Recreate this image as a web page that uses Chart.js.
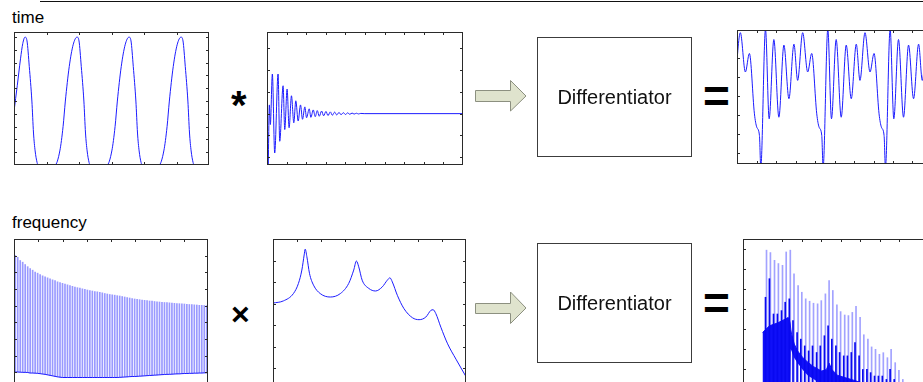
<!DOCTYPE html>
<html><head><meta charset="utf-8">
<script src="https://cdn.jsdelivr.net/npm/chart.js@4.4.1/dist/chart.umd.min.js"></script>
<style>
html,body{margin:0;padding:0;background:#fff;}
body{width:923px;height:382px;overflow:hidden;position:relative;font-family:"Liberation Sans",Arial,sans-serif;}
.lbl{position:absolute;font-size:17px;line-height:17px;color:#000;white-space:nowrap;}
.box{position:absolute;border:1px solid #3c3c3c;box-sizing:border-box;display:flex;align-items:center;justify-content:center;font-size:20px;color:#111;}
.sym{position:absolute;font-weight:bold;color:#000;white-space:nowrap;}
canvas{position:absolute;}
#rule{position:absolute;left:40px;top:1px;width:883px;height:1px;background:#111;}
svg{position:absolute;left:0;top:0;}
</style></head><body>
<div id="rule"></div>
<div class="lbl" style="left:12px;top:9px;">time</div>
<div class="lbl" style="left:12px;top:214px;">frequency</div>

<canvas id="c1" width="199" height="137" style="left:12px;top:30px;"></canvas>
<canvas id="c2" width="200" height="137" style="left:265px;top:30px;"></canvas>
<canvas id="c4" width="199" height="138" style="left:735px;top:28px;"></canvas>
<canvas id="c5" width="198" height="154" style="left:12px;top:237px;"></canvas>
<canvas id="c6" width="197" height="155" style="left:271px;top:237px;"></canvas>
<canvas id="c7" width="199" height="154" style="left:741px;top:237px;"></canvas>

<div class="sym" style="left:231px;top:85px;font-size:40px;line-height:40px;">*</div>
<div class="sym" style="left:231px;top:298px;font-size:32px;line-height:32px;">×</div>
<div class="sym" style="left:703px;top:73px;font-size:46px;line-height:46px;">=</div>
<div class="sym" style="left:703px;top:280px;font-size:46px;line-height:46px;">=</div>

<svg width="923" height="382">
  <polygon points="475.5,90.5 510.5,90.5 510.5,80.5 526,96 510.5,111 510.5,101.5 475.5,101.5" fill="#dfe3cd" stroke="#8c9080" stroke-width="1"/>
  <polygon points="475.5,303.5 510.5,303.5 510.5,292 526,308 510.5,323.5 510.5,313.5 475.5,313.5" fill="#dfe3cd" stroke="#8c9080" stroke-width="1"/>
</svg>
<div class="box" style="left:537px;top:37px;width:155px;height:120px;">Differentiator</div>
<div class="box" style="left:537px;top:243px;width:155px;height:120px;">Differentiator</div>

<script>
// ---- time domain: glottal pulse train ----
const pulseX = [0,0.1,0.2,0.27,0.34,0.40,0.47,0.55,0.60,0.65,0.71,0.74,
  1.26,1.41,1.51,1.58,1.70,1.82,1.94,2.00,2.07,2.15,2.20,2.25,2.31,2.34,
  2.86,3.01,3.11,3.18,3.30,3.42,3.54,3.60,3.67,3.75,3.80,3.85,3.91,3.94,
  4.46,4.61,4.71,4.78,4.90,5.02,5.14,5.20,5.27,5.35,5.40,5.45,5.51,5.54,6.0];
const pulseY = [0.42,0.62,0.83,0.95,1.0,0.97,0.77,0.5,0.25,0.11,0.02,0,
  0,0.11,0.3,0.5,0.77,0.94,1.0,0.97,0.77,0.5,0.25,0.11,0.02,0,
  0,0.11,0.3,0.5,0.77,0.94,1.0,0.97,0.77,0.5,0.25,0.11,0.02,0,
  0,0.11,0.3,0.5,0.77,0.94,1.0,0.97,0.77,0.5,0.25,0.11,0.02,0,0];
const pulseXTicks = [1,2,3,4,5];
const pulseYTicks = [0.1,0.2,0.3,0.4,0.5,0.6,0.7,0.8,0.9,1.0];

// ---- time domain: vocal tract impulse response ----
const irX = [0,3,7,10,16,23,33,38,48,53,60,66,73,80,86,93,100,106,113,118,126,131,138,144,150,156,163,169,176,182,189,195,202,208,215,221,228,234,241,247,254,260,267,273,280,290,585];
const irY = [4.2,-2.6,0.4,-0.5,1.82,-1.81,1.82,-1.27,1.28,-0.73,1.13,-0.65,0.82,-0.42,0.59,-0.34,0.40,-0.26,0.31,-0.19,0.22,-0.17,0.17,-0.14,0.14,-0.12,0.12,-0.10,0.10,-0.09,0.08,-0.075,0.07,-0.06,0.055,-0.05,0.045,-0.04,0.035,-0.03,0.025,-0.02,0.018,-0.015,0.01,0,0];
const irXTicks = [58.5,117,175.5,234,292.5,351,409.5,468,526.5];
const irYTicks = [-2,-1,0,1,2,3];

// ---- time domain: output speech ----
const spX = [-5,10,25,37,52,59,67,71,
  85,96,110,125,140,155,170,181,196,211,223,238,245,253,257,
  271,282,296,311,326,341,356,367,382,397,409,424,431,439,443,
  457,468,482,497,512,527,542,553,568,583];
const spY = [3.82,6.32,4.26,5.23,2.07,1.37,0.93,-0.74,
  6.5,1.81,5.96,1.89,5.67,2.86,5.72,3.82,6.32,4.26,5.23,2.07,1.37,0.93,-0.74,
  6.5,1.81,5.96,1.89,5.67,2.86,5.72,3.82,6.32,4.26,5.23,2.07,1.37,0.93,-0.74,
  6.5,1.81,5.96,1.89,5.67,2.86,5.72,3.82,6.32,4.26];
const spXTicks = [58.2,116.4,174.6,232.8,291,349.2,407.4,465.6,523.8];
const spYTicks = [0,1,2,3,4,5];

// ---- frequency domain: glottal spectrum (harmonic lines) ----
const harmTop = [8.01,7.90,7.71,7.61,7.47,7.34,7.23,7.13,7.02,6.95,6.87,6.79,6.73,6.67,6.61,6.55,6.50,6.43,6.39,6.34,
  6.30,6.25,6.20,6.16,6.12,6.08,6.05,6.01,5.98,5.94,5.91,5.88,5.85,5.83,5.80,5.77,5.73,5.70,5.67,5.65,
  5.63,5.60,5.58,5.55,5.52,5.49,5.46,5.43,5.40,5.38,5.36,5.34,5.32,5.30,5.28,5.27,5.25,5.23,5.22,5.20,
  5.19,5.18,5.17,5.16,5.14,5.13,5.12,5.11,5.10,5.08,5.07,5.06,5.05,5.04,5.02,5.02,5.01,5.00];
const harmLow = [1.02,1.02,1.01,1.0,1.0,0.99,0.96,0.96,0.95,0.94,0.92,0.9,0.88,0.85,0.82,0.79,0.76,0.73,0.71,0.69,
  0.69,0.69,0.69,0.69,0.69,0.69,0.69,0.69,0.69,0.69,0.69,0.69,0.69,0.69,0.69,0.69,0.69,0.69,0.69,0.69,
  0.69,0.69,0.70,0.71,0.72,0.73,0.74,0.75,0.75,0.76,0.77,0.78,0.79,0.80,0.81,0.82,0.83,0.84,0.85,0.86,
  0.87,0.88,0.88,0.89,0.90,0.91,0.91,0.92,0.93,0.93,0.94,0.94,0.95,0.95,0.96,0.96,0.97,0.97];
const harmLabels = harmTop.map((_, i) => String(i + 1));
const harmYTicks = [1,2,3,4,5,6,7,8];

// ---- frequency domain: vocal tract response ----
const vtX = [0,0.215,0.423,0.527,0.598,0.646,0.667,0.702,0.756,0.840,0.979,1.188,1.396,1.569,1.673,1.729,1.777,1.848,1.985,2.125,2.265,2.369,2.423,2.473,2.577,2.715,2.890,3.027,3.167,3.271,3.319,3.375,3.479,3.619,3.792,4.0];
const vtY = [4.03,4.13,4.47,4.94,5.56,6.26,6.53,6.18,5.41,4.86,4.47,4.31,4.47,4.94,5.56,5.98,5.71,5.09,4.71,4.59,4.78,5.09,5.20,5.01,4.39,3.77,3.35,3.26,3.38,3.69,3.72,3.54,2.91,2.14,1.43,0.62];
const vtXTicks = [0.5,1,1.5,2,2.5,3,3.5];
const vtYTicks = [1,2,3,4,5,6];

// ---- frequency domain: output spectrum ----
const spkX = [0.18,0.38,0.59,0.79,1.0,1.19,1.4,1.59,1.8,1.99,2.19,2.39,2.59,2.8,2.99,3.2,3.39,3.58,3.79,3.98,4.19,4.38,4.58,4.77,4.98,5.17,5.38,5.57,5.77,5.97,6.17,6.38,6.57,6.78,6.97,7.17];
const spkTop = [5.96,5.84,5.45,5.29,5.2,5.87,5.96,4.78,4.19,3.85,3.52,3.40,3.30,3.27,3.43,3.77,4.44,3.94,3.22,2.88,2.71,2.68,2.84,3.15,2.59,1.72,1.50,1.11,0.99,0.74,0.82,0.57,0.99,0.32,-0.07,-0.52];
const spkCore = [3.60,4.53,2.76,2.76,2.93,3.35,3.52,2.43,1.83,1.50,1.16,0.91,1.16,0.83,1.16,1.67,2.17,1.50,1.16,0.83,0.66,0.66,0.83,1.33,0.66,-0.02,-0.02,-0.18,-0.35,-0.35,-0.35,-0.52,-0.02,-0.52,-0.69,-0.69];
const bandX = [0,0.36,0.77,1.18,1.32,1.41,1.45,1.49,1.63,1.80,2.07,2.35,2.62,3.03,3.17,3.28,3.42,3.55,3.86,4.27,4.68,5.09,5.64,8];
const bandHi = [1.83,2.17,2.31,2.51,2.59,2.34,2.0,1.75,1.25,0.91,0.57,0.32,0.12,-0.10,-0.06,-0.02,0.29,-0.02,-0.32,-0.44,-0.56,-0.69,-0.82,-1.2];
const bandLo = [-1.6,-1.6,-1.6,-1.6,-1.6,-1.6,1.0,0.9,0.55,0.3,-0.05,-0.35,-0.5,-0.8,-1.6,-1.6,-1.6,-1.6,-1.6,-1.6,-1.6,-1.6,-1.6,-1.6];
const spkFloor = -1.6;
const spkXTicks = [1,2,3,4,5,6,7];
const spkYTicks = [0,1,2,3,4,5,6];

// ---------------------------------------------------------------
const BLUE = '#1c1cff';
function pts(xs, ys) { return xs.map((x, i) => ({ x: x, y: ys[i] })); }

const framePlugin = {
  id: 'frame',
  afterDatasetsDraw(chart, args, opts) {
    const ctx = chart.ctx, a = chart.chartArea;
    const xs = chart.scales.x, ys = chart.scales.y;
    const L = Math.round(a.left) + 0.5, R = Math.round(a.right) - 0.5;
    const T = Math.round(a.top) + 0.5, B = Math.round(a.bottom) - 0.5;
    ctx.save();
    ctx.strokeStyle = '#2a2a2a';
    ctx.lineWidth = 1;
    ctx.strokeRect(L, T, R - L, B - T);
    ctx.beginPath();
    (opts.xt || []).forEach(v => {
      const p = Math.round(xs.getPixelForValue(v)) + 0.5;
      ctx.moveTo(p, T); ctx.lineTo(p, T + 2.5);
      ctx.moveTo(p, B); ctx.lineTo(p, B - 2.5);
    });
    (opts.yt || []).forEach(v => {
      const p = Math.round(ys.getPixelForValue(v)) + 0.5;
      ctx.moveTo(L, p); ctx.lineTo(L + 2.5, p);
      ctx.moveTo(R, p); ctx.lineTo(R - 2.5, p);
    });
    ctx.stroke();
    ctx.restore();
  }
};

function make(id, type, data, xScale, yScale, xt, yt) {
  return new Chart(document.getElementById(id), {
    type: type,
    data: data,
    options: {
      responsive: false, animation: false, devicePixelRatio: 1,
      layout: { padding: 2 },
      plugins: { legend: { display: false }, tooltip: { enabled: false }, frame: { xt: xt, yt: yt } },
      scales: { x: Object.assign({ display: false }, xScale), y: Object.assign({ display: false }, yScale) },
      elements: { point: { radius: 0 } }
    },
    plugins: [framePlugin]
  });
}

function lineDs(xs, ys, extra) {
  return Object.assign({ data: pts(xs, ys), borderColor: BLUE, borderWidth: 1, pointRadius: 0,
    cubicInterpolationMode: 'monotone', fill: false }, extra || {});
}

// chart 1
make('c1', 'line', { datasets: [lineDs(pulseX, pulseY)] },
  { type: 'linear', min: 0, max: 6 }, { min: 0, max: 1.04 }, pulseXTicks, pulseYTicks);

// chart 2
make('c2', 'line', { datasets: [lineDs(irX, irY)] },
  { type: 'linear', min: 0, max: 585 }, { min: -2.36, max: 3.75 }, irXTicks, irYTicks);

// chart 4
make('c4', 'line', { datasets: [lineDs(spX, spY)] },
  { type: 'linear', min: 0, max: 582 }, { min: -0.56, max: 6.46 }, spXTicks, spYTicks);

// chart 5
make('c5', 'bar', {
  labels: harmLabels,
  datasets: [
    { type: 'line', data: harmLow, borderColor: BLUE, borderWidth: 1, pointRadius: 0, order: 1 },
    { type: 'bar', data: harmTop.map((t, i) => [harmLow[i], t]), backgroundColor: 'rgba(70,70,255,0.55)',
      barThickness: 1, order: 2 }
  ]
}, { type: 'category' }, { min: 0, max: 9 },
  [1,2,3,4,5,6,7].map(k => -0.5 + k * harmTop.length / 8), harmYTicks);

// chart 6
make('c6', 'line', { datasets: [lineDs(vtX, vtY)] },
  { type: 'linear', min: 0, max: 4 }, { min: 0, max: 7 }, vtXTicks, vtYTicks);

// chart 7
make('c7', 'bar', {
  datasets: [
    { type: 'bar', data: spkX.map((x, i) => ({ x: x, y: [spkFloor, spkCore[i]] })), backgroundColor: '#0808f0',
      barThickness: 1, order: 1 },
    { type: 'line', data: pts(bandX, bandHi), borderColor: '#1010f8', borderWidth: 1, pointRadius: 0,
      fill: '+1', backgroundColor: '#1010f8', order: 2 },
    { type: 'line', data: pts(bandX, bandLo), borderColor: 'rgba(0,0,0,0)', borderWidth: 0, pointRadius: 0,
      fill: false, order: 3 },
    { type: 'bar', data: spkX.map((x, i) => ({ x: x, y: [spkFloor, spkTop[i]] })), backgroundColor: 'rgba(100,100,255,0.6)',
      barThickness: 1, order: 4 }
  ]
}, { type: 'linear', min: 0, max: 8 }, { min: -1, max: 6.52 }, spkXTicks, spkYTicks);
</script>
</body></html>
